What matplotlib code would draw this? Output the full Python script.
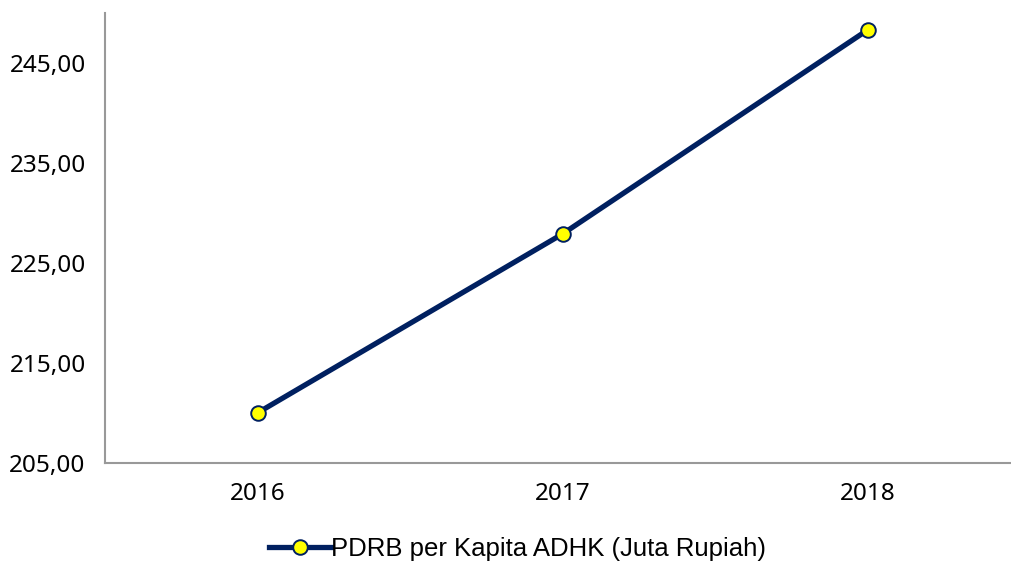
import matplotlib
matplotlib.use("Agg")
import matplotlib.pyplot as plt

# data
years = ["2016", "2017", "2018"]
pdrb_per_kapita = [210.0, 227.9, 248.3]
y_ticks = [205, 215, 225, 235, 245]

LINE_COLOR = "#002060"
SPINE_COLOR = "#999999"

fig = plt.figure(figsize=(10.11, 5.63), dpi=100)
ax = fig.add_axes([0.104, 0.178, 0.896, 0.799])

x = list(range(len(years)))
ax.plot(x, pdrb_per_kapita, color=LINE_COLOR, linewidth=3.8,
        marker="o", markersize=10.5, markerfacecolor="#ffff00",
        markeredgecolor=LINE_COLOR, markeredgewidth=1.4,
        label="PDRB per Kapita ADHK (Juta Rupiah)")

ax.set_xlim(-0.5, 2.47)
ax.set_ylim(205, 250)
ax.set_xticks(x)
ax.set_xticklabels(years)
ax.set_yticks(y_ticks)
ax.set_yticklabels([f"{v:.2f}".replace(".", ",") for v in y_ticks])

for lbl in ax.get_xticklabels() + ax.get_yticklabels():
    lbl.set_fontfamily("Noto Sans")
    lbl.set_fontsize(17.5)

ax.tick_params(axis="both", length=0, pad=14)
ax.spines["top"].set_visible(False)
ax.spines["right"].set_visible(False)
for s in ("left", "bottom"):
    ax.spines[s].set_color(SPINE_COLOR)
    ax.spines[s].set_linewidth(1.5)

leg = fig.legend(loc="center", bbox_to_anchor=(0.512, 0.025), frameon=False,
                 prop={"family": "Liberation Sans", "size": 18.5},
                 handlelength=2.4, handletextpad=0.0, borderpad=0)

fig.savefig("out.png", dpi=100)
